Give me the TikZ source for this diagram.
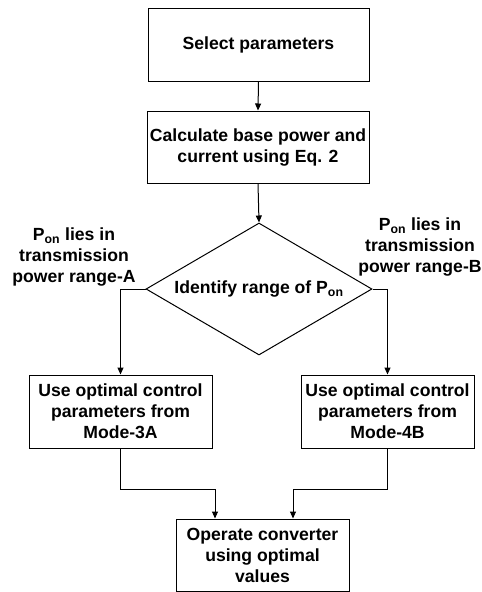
\documentclass[tikz,border=0pt]{standalone}
\usepackage{fontspec}
\setmainfont{Liberation Sans}
\usetikzlibrary{shapes.geometric,arrows.meta}
\begin{document}
\begin{tikzpicture}[x=1pt,y=-1pt,
  every node/.style={font=\fontsize{17.6}{21}\selectfont\bfseries, align=center},
  box/.style={draw, line width=1pt, inner sep=2pt},
  dec/.style={draw, diamond, line width=1pt, inner sep=0pt},
  conn/.style={line width=1pt},
  arr/.style={conn, -{Triangle[width=6pt,length=7pt]}},
  lbl/.style={inner sep=0pt}]
\useasboundingbox (0,0) rectangle (482,592);
\node[box, minimum width=221pt, minimum height=73pt] (b1) at (258.5,44.5) {Select parameters};
\node[box, minimum width=222pt, minimum height=72pt] (b2) at (258,147) {Calculate base power and\\current using Eq. 2};
\node[dec, minimum width=226pt, minimum height=132pt] (d) at (259,289) {};
\node[inner sep=0pt] (dt) at (d.center) {Identify range of P\textsubscript{on}};
\node[box, minimum width=183pt, minimum height=73pt] (b3) at (120.5,411.5) {Use optimal control\\parameters from\\Mode-3A};
\node[box, minimum width=173pt, minimum height=73pt] (b4) at (387.5,411.5) {Use optimal control\\parameters from\\Mode-4B};
\node[box, minimum width=173pt, minimum height=72pt] (b5) at (262.5,555) {Operate converter\\using optimal\\values};
\node[lbl] (la) at (74,257) {P\textsubscript{on} lies in\\transmission\\power range-A};
\node[lbl] (lb) at (420,247) {P\textsubscript{on} lies in\\transmission\\power range-B};
\coordinate (m1) at (215,489);
\coordinate (m2) at (293,489);
\draw[arr] (b1.south) -- (b2.north);
\draw[arr] (b2.south) -- (d.north);
\draw[arr] (d.west) -| (b3.north);
\draw[arr] (d.east) -| (b4.north);
\draw[conn] (b3.south) |- (m1);
\draw[arr] (m1) -- (m1 |- b5.north);
\draw[conn] (b4.south) |- (m2);
\draw[arr] (m2) -- (m2 |- b5.north);
\end{tikzpicture}
\end{document}
